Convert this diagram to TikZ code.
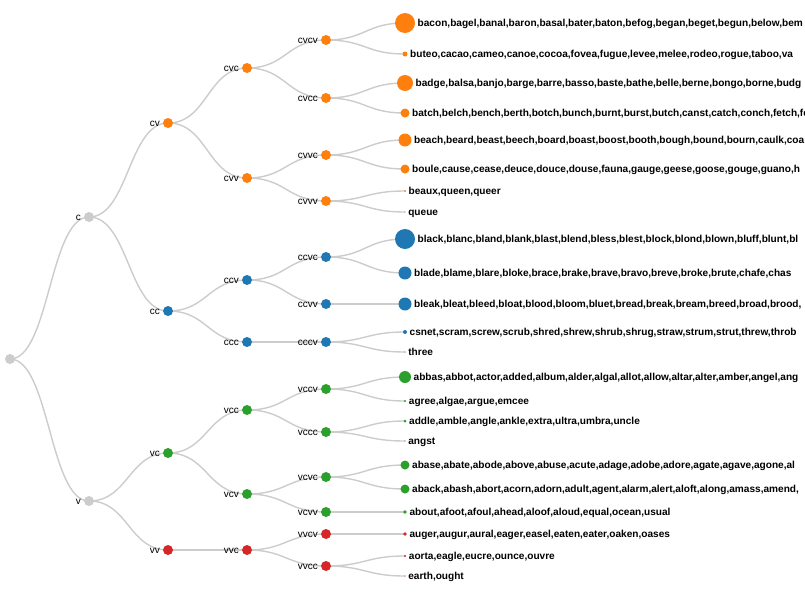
\documentclass[tikz,border=0pt]{standalone}
\usepackage{fontspec}
\setmainfont{Liberation Sans}
\usetikzlibrary{backgrounds}
\definecolor{cor}{HTML}{FF7F0E}
\definecolor{cbl}{HTML}{1F77B4}
\definecolor{cgr}{HTML}{2CA02C}
\definecolor{crd}{HTML}{D62728}
\definecolor{cgy}{HTML}{CCCCCC}
\definecolor{linkgray}{HTML}{CCCCCC}
\tikzset{
  dot/.style={circle, inner sep=0pt, minimum size=10pt, fill=#1},
  leafdot/.style={circle, inner sep=0pt, fill=#1},
  link/.style={draw=linkgray, line width=1.4pt},
  ilab/.style={anchor=base east, font=\fontsize{10}{12}\selectfont, inner sep=0pt},
  llab/.style={anchor=base west, font=\fontsize{10.1}{12}\selectfont\bfseries, inner sep=0pt},
}
\newcommand\inode[5]{\node[dot=#4] (#1) at (#2,#3) {}; \node[ilab] (#1-l) at (#2-8,#3+3.5) {#5};}
\newcommand\leafn[5]{\node[leafdot=#4, minimum size={2*#3pt}] (#1) at (405,#2) {}; \node[llab] (#1-l) at (405+#3+2.5,#2+3.5) {#5};}
\newcommand\lk[2]{\draw[link] (#1.center) .. controls +(39.5,0) and +(-39.5,0) .. (#2.center);}
\begin{document}
\begin{tikzpicture}[x=1pt,y=-1pt]
\useasboundingbox (0,0) rectangle (805,600);
\clip (0,0) rectangle (805,600);
% level 0-1
\node[dot=cgy] (root) at (10,359) {};
\inode{c}{89}{217}{cgy}{c}
\inode{v}{89}{501}{cgy}{v}
% level 2
\inode{cv}{168}{123}{cor}{cv}
\inode{cc}{168}{311}{cbl}{cc}
\inode{vc}{168}{453}{cgr}{vc}
\inode{vv}{168}{550}{crd}{vv}
% level 3
\inode{cvc}{247}{68}{cor}{cvc}
\inode{cvv}{247}{178}{cor}{cvv}
\inode{ccv}{247}{280}{cbl}{ccv}
\inode{ccc}{247}{342}{cbl}{ccc}
\inode{vcc}{247}{410}{cgr}{vcc}
\inode{vcv}{247}{494}{cgr}{vcv}
\inode{vvc}{247}{550}{crd}{vvc}
% level 4
\inode{cvcv}{326}{40}{cor}{cvcv}
\inode{cvcc}{326}{98}{cor}{cvcc}
\inode{cvvc}{326}{155}{cor}{cvvc}
\inode{cvvv}{326}{201}{cor}{cvvv}
\inode{ccvc}{326}{257}{cbl}{ccvc}
\inode{ccvv}{326}{304}{cbl}{ccvv}
\inode{cccv}{326}{342}{cbl}{cccv}
\inode{vccv}{326}{389}{cgr}{vccv}
\inode{vccc}{326}{432}{cgr}{vccc}
\inode{vcvc}{326}{477}{cgr}{vcvc}
\inode{vcvv}{326}{512}{cgr}{vcvv}
\inode{vvcv}{326}{534}{crd}{vvcv}
\inode{vvcc}{326}{566}{crd}{vvcc}
% leaves
\leafn{l1}{23}{10}{cor}{bacon,bagel,banal,baron,basal,bater,baton,befog,began,beget,begun,below,bem}
\leafn{l2}{54}{2.5}{cor}{buteo,cacao,cameo,canoe,cocoa,fovea,fugue,levee,melee,rodeo,rogue,taboo,va}
\leafn{l3}{83}{8}{cor}{badge,balsa,banjo,barge,barre,basso,baste,bathe,belle,berne,bongo,borne,budg}
\leafn{l4}{113}{4.5}{cor}{batch,belch,bench,berth,botch,bunch,burnt,burst,butch,canst,catch,conch,fetch,fe}
\leafn{l5}{140}{6.5}{cor}{beach,beard,beast,beech,board,boast,boost,booth,bough,bound,bourn,caulk,coa}
\leafn{l6}{169}{4.5}{cor}{boule,cause,cease,deuce,douce,douse,fauna,gauge,geese,goose,gouge,guano,h}
\leafn{l7}{191}{1}{cor}{beaux,queen,queer}
\leafn{l8}{212}{0.6}{cor}{queue}
\leafn{l9}{239}{10}{cbl}{black,blanc,bland,blank,blast,blend,bless,blest,block,blond,blown,bluff,blunt,bl}
\leafn{l10}{273}{6.5}{cbl}{blade,blame,blare,bloke,brace,brake,brave,bravo,breve,broke,brute,chafe,chas}
\leafn{l11}{304}{6.5}{cbl}{bleak,bleat,bleed,bloat,blood,bloom,bluet,bread,break,bream,breed,broad,brood,}
\leafn{l12}{332}{2}{cbl}{csnet,scram,screw,scrub,shred,shrew,shrub,shrug,straw,strum,strut,threw,throb}
\leafn{l13}{352}{0.6}{cbl}{three}
\leafn{l14}{377}{6}{cgr}{abbas,abbot,actor,added,album,alder,algal,allot,allow,altar,alter,amber,angel,ang}
\leafn{l15}{401}{1.2}{cgr}{agree,algae,argue,emcee}
\leafn{l16}{421}{1.5}{cgr}{addle,amble,angle,ankle,extra,ultra,umbra,uncle}
\leafn{l17}{441}{0.6}{cgr}{angst}
\leafn{l18}{465}{4.5}{cgr}{abase,abate,abode,above,abuse,acute,adage,adobe,adore,agate,agave,agone,al}
\leafn{l19}{489}{4.5}{cgr}{aback,abash,abort,acorn,adorn,adult,agent,alarm,alert,aloft,along,amass,amend,}
\leafn{l20}{512}{1.8}{cgr}{about,afoot,afoul,ahead,aloof,aloud,equal,ocean,usual}
\leafn{l21}{534}{1.8}{crd}{auger,augur,aural,eager,easel,eaten,eater,oaken,oases}
\leafn{l22}{556}{1.2}{crd}{aorta,eagle,eucre,ounce,ouvre}
\leafn{l23}{576}{0.6}{crd}{earth,ought}
\begin{pgfonlayer}{background}
\lk{root}{c}\lk{root}{v}
\lk{c}{cv}\lk{c}{cc}\lk{v}{vc}\lk{v}{vv}
\lk{cv}{cvc}\lk{cv}{cvv}\lk{cc}{ccv}\lk{cc}{ccc}\lk{vc}{vcc}\lk{vc}{vcv}\lk{vv}{vvc}
\lk{cvc}{cvcv}\lk{cvc}{cvcc}\lk{cvv}{cvvc}\lk{cvv}{cvvv}
\lk{ccv}{ccvc}\lk{ccv}{ccvv}\lk{ccc}{cccv}
\lk{vcc}{vccv}\lk{vcc}{vccc}\lk{vcv}{vcvc}\lk{vcv}{vcvv}
\lk{vvc}{vvcv}\lk{vvc}{vvcc}
\lk{cvcv}{l1}\lk{cvcv}{l2}\lk{cvcc}{l3}\lk{cvcc}{l4}
\lk{cvvc}{l5}\lk{cvvc}{l6}\lk{cvvv}{l7}\lk{cvvv}{l8}
\lk{ccvc}{l9}\lk{ccvc}{l10}\lk{ccvv}{l11}\lk{cccv}{l12}\lk{cccv}{l13}
\lk{vccv}{l14}\lk{vccv}{l15}\lk{vccc}{l16}\lk{vccc}{l17}
\lk{vcvc}{l18}\lk{vcvc}{l19}\lk{vcvv}{l20}
\lk{vvcv}{l21}\lk{vvcc}{l22}\lk{vvcc}{l23}
\end{pgfonlayer}
\end{tikzpicture}
\end{document}
